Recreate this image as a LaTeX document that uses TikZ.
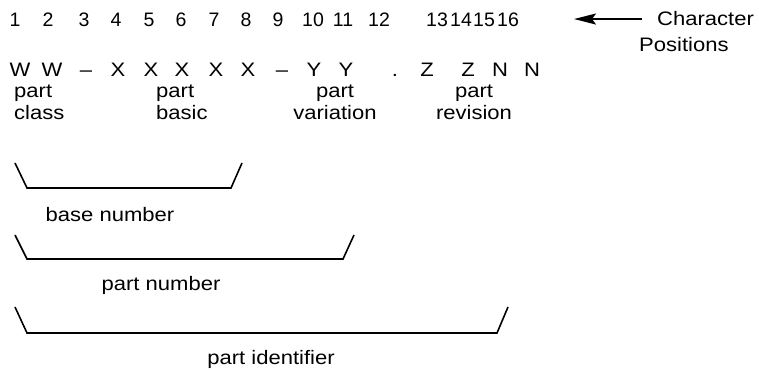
\documentclass[tikz,border=0pt]{standalone}
\usepackage{fontspec}
\setmainfont{Liberation Sans}[FakeStretch=1.13]
\newfontfamily\digitfont{Liberation Sans}
\usetikzlibrary{arrows.meta, calc}

\begin{document}
\begin{tikzpicture}[x=1pt, y=-1pt,
        every node/.style={inner sep=0pt, font=\fontsize{19.5}{22}\selectfont},
        glyph/.style={anchor=base},
        bracket/.style={draw, line width=1.6pt},
        pointer/.style={line width=2pt, arrows={-{Stealth[length=22pt, width=11pt, inset=4pt]}}}]
    \useasboundingbox (0, 0) rectangle (759, 371);
    \foreach \n/\x in {1/15, 2/48, 3/84, 4/116, 5/149, 6/181, 7/214, 8/246, 9/278,
            10/313, 11/343, 12/379, 13/437, 14/461, 15/484, 16/508}
        \node [glyph, font=\fontsize{19.5}{22}\digitfont] (pos\n) at (\x, 27) {\n};
    \foreach \n/\c/\x in {1/W/20, 2/W/52, 3/\textendash/86, 4/X/118, 5/X/151, 6/X/182,
            7/X/216, 8/X/248, 9/\textendash/282, 10/Y/314, 11/Y/346, 12/./395,
            13/Z/427, 14/Z/468, 15/N/500, 16/N/532}
        \node [glyph] (chr\n) at (\x, 77) {\c};
    \node [anchor=base west, align=left] (classlbl) at (14, 120) {part\\class};
    \node [anchor=base west, align=left] (basiclbl) at (156, 120) {part\\basic};
    \node [anchor=base, align=center] (varlbl) at (335, 120) {part\\variation};
    \node [anchor=base, align=center] (revlbl) at (474, 120) {part\\revision};
    \node [anchor=base west] (title) at (657, 26) {Character};
    \node [anchor=base west] (subtitle) at (639, 52) {Positions};
    \coordinate (tip) at ($(title.west) + (-83, 0)$);
    \draw [pointer, shorten <=15pt] (title.west) -- (tip);
    \draw [bracket] (15, 163) -- (27, 188) -- (231, 188) -- (242, 163);
    \node [glyph] (basenum) at (110, 222) {base number};
    \draw [bracket] (15, 235) -- (27, 259) -- (343, 259) -- (354, 235);
    \node [glyph] (partnum) at (161, 290) {part number};
    \draw [bracket] (15, 307) -- (27, 333) -- (497, 333) -- (508, 307);
    \node [glyph] (partid) at (271, 364) {part identifier};
\end{tikzpicture}
\end{document}
